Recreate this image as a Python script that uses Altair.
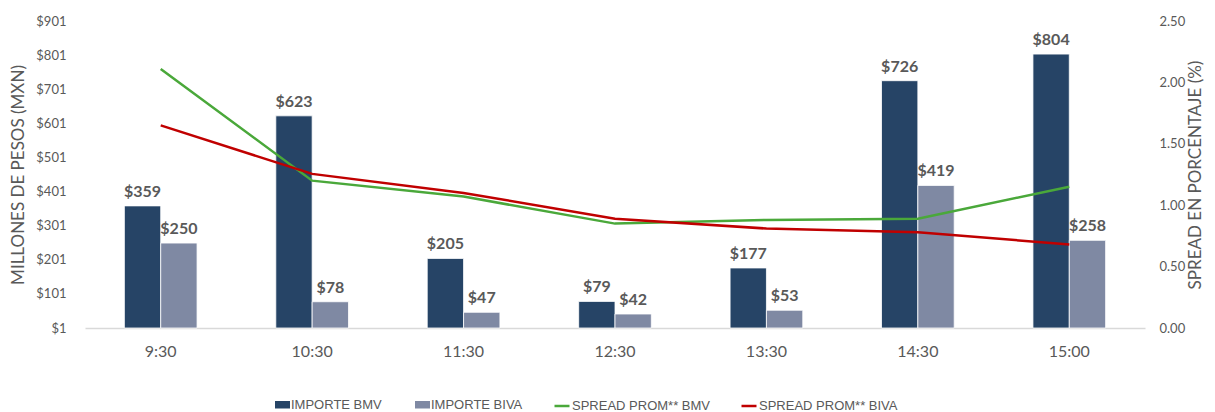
import altair as alt
import pandas as pd

horas = ["9:30", "10:30", "11:30", "12:30", "13:30", "14:30", "15:00"]
importe_bmv = [359, 623, 205, 79, 177, 726, 804]
importe_biva = [250, 78, 47, 42, 53, 419, 258]
spread_bmv = [2.11, 1.20, 1.07, 0.85, 0.88, 0.89, 1.15]
spread_biva = [1.65, 1.255, 1.10, 0.89, 0.81, 0.78, 0.68]
series_bar = ["IMPORTE BMV", "IMPORTE BIVA"]
series_line = ["SPREAD PROM** BMV", "SPREAD PROM** BIVA"]
left_ticks = [1, 101, 201, 301, 401, 501, 601, 701, 801, 901]
right_ticks = [0, 0.5, 1.0, 1.5, 2.0, 2.5]

rows = []
for i, h in enumerate(horas):
    rows.append({"hora": h, "serie": series_bar[0], "valor": importe_bmv[i]})
    rows.append({"hora": h, "serie": series_bar[1], "valor": importe_biva[i]})
bars_df = pd.DataFrame(rows)

lrows = []
for i, h in enumerate(horas):
    lrows.append({"hora": h, "serie2": series_line[0], "spread": spread_bmv[i]})
    lrows.append({"hora": h, "serie2": series_line[1], "spread": spread_biva[i]})
lines_df = pd.DataFrame(lrows)

GRAY = "#595959"
FONT = "Lato"
LEGFONT = "Liberation Sans Narrow, Liberation Sans"

x_enc = alt.X(
    "hora:N", sort=horas,
    scale=alt.Scale(paddingInner=0.52, paddingOuter=0.26),
    axis=alt.Axis(title=None, labelAngle=0, ticks=False, domain=True,
                  domainColor="#d9d9d9", domainWidth=1.5, labelPadding=15,
                  labelFontSize=16, labelColor=GRAY, labelFont=FONT),
)

left_axis = alt.Axis(values=left_ticks, labelExpr="'$' + datum.value",
                     labelOverlap=False, tickCount=10,
                     title="MILLONES DE PESOS (MXN)", titleFontSize=17,
                     titleFontWeight="normal", titleColor=GRAY, titleFont=FONT,
                     titlePadding=8, domain=False, ticks=False, grid=False,
                     labelFontSize=13, labelColor=GRAY, labelFont=FONT,
                     labelPadding=19)
left_scale = alt.Scale(domain=[1, 901], zero=False, nice=False)

bars = alt.Chart(bars_df).mark_bar(stroke="white", strokeWidth=0.8).encode(
    x=x_enc,
    xOffset=alt.XOffset("serie:N", sort=series_bar),
    y=alt.Y("valor:Q", scale=left_scale, axis=left_axis),
    y2=alt.datum(1),
    color=alt.Color(
        "serie:N",
        scale=alt.Scale(domain=series_bar, range=["#264466", "#7f89a3"]),
        legend=alt.Legend(title=None, orient="none", legendX=190, legendY=376,
                          direction="horizontal",
                          symbolType="M-1,-0.5H1V0.5H-1Z", symbolSize=225,
                          symbolStrokeWidth=0, labelFont=LEGFONT,
                          labelFontSize=13, labelColor=GRAY, labelOffset=1,
                          columnPadding=33),
    ),
)

text = alt.Chart(bars_df).transform_calculate(
    etiqueta="'$' + datum.valor"
).mark_text(
    dy=-9, baseline="alphabetic", fontWeight="bold", fontSize=16,
    color=GRAY, font=FONT
).encode(
    x=alt.X("hora:N", sort=horas),
    xOffset=alt.XOffset("serie:N", sort=series_bar),
    y=alt.Y("valor:Q", scale=left_scale, axis=left_axis),
    text="etiqueta:N",
)

lines = alt.Chart(lines_df).mark_line(strokeWidth=2.5).encode(
    x=alt.X("hora:N", sort=horas),
    y=alt.Y(
        "spread:Q",
        scale=alt.Scale(domain=[0, 2.5], nice=False),
        axis=alt.Axis(orient="right", values=right_ticks, format=".2f",
                      labelOverlap=False,
                      title="SPREAD EN PORCENTAJE (%)", titleFontSize=17,
                      titleFontWeight="normal", titleColor=GRAY,
                      titleFont=FONT, titleAngle=270, titleBaseline="top",
                      titlePadding=3,
                      domain=False, ticks=False, grid=False,
                      labelFontSize=13, labelColor=GRAY, labelFont=FONT,
                      labelPadding=14),
    ),
    stroke=alt.Stroke(
        "serie2:N",
        scale=alt.Scale(domain=series_line, range=["#4aa83a", "#c00000"]),
        legend=alt.Legend(title=None, orient="none", legendX=468, legendY=376,
                          direction="horizontal", symbolType="stroke",
                          symbolSize=225, symbolStrokeWidth=2.5,
                          labelFont=LEGFONT, labelFontSize=13,
                          labelColor=GRAY, labelOffset=1, columnPadding=26),
    ),
)

chart = alt.layer(alt.layer(bars, text), lines).resolve_scale(
    y="independent"
).properties(
    width=1060, height=307,
    autosize=alt.AutoSizeParams(type="none"),
    padding={"left": 77, "top": 13, "right": 62, "bottom": 90},
).configure_view(stroke=None)

chart.save("out.html", embed_options={"renderer": "svg", "actions": False})
